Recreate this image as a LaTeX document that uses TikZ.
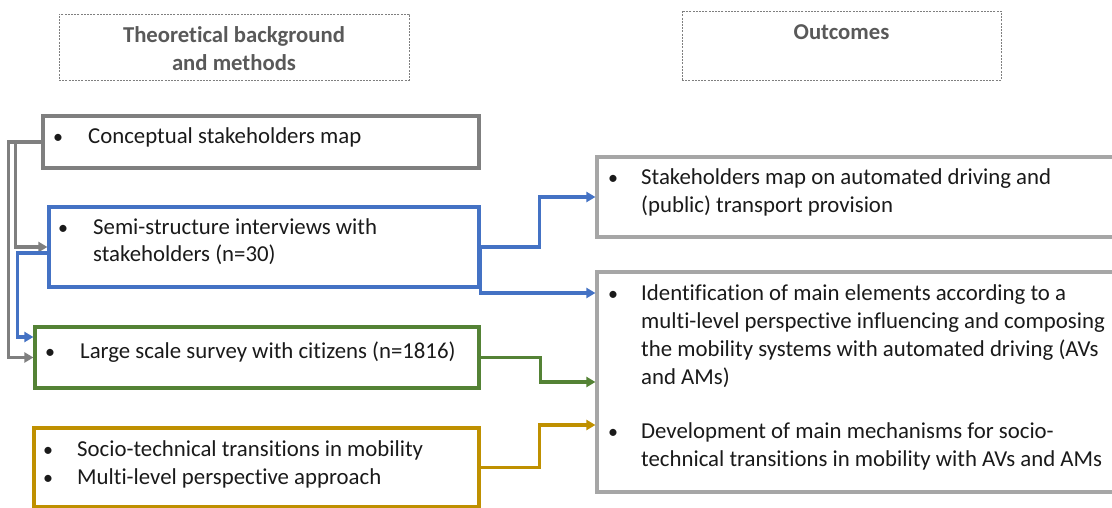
\documentclass[tikz,border=0pt]{standalone}
\usepackage{fontspec}
\setmainfont{Carlito}[RawFeature={-liga;-clig;-calt;-dlig}]
\usetikzlibrary{arrows.meta}
\definecolor{cgray}{HTML}{7F7F7F}
\definecolor{lgray}{HTML}{A6A6A6}
\definecolor{cblue}{HTML}{4472C4}
\definecolor{cgreen}{HTML}{548235}
\definecolor{cgold}{HTML}{BF9000}
\definecolor{ttext}{HTML}{595959}
\definecolor{btext}{HTML}{1A1A1A}
\newcommand{\mylines}[1]{\begin{tabular}[t]{@{}l@{}}#1\end{tabular}}
\begin{document}
\begin{tikzpicture}[x=1pt,y=-1pt,
  box/.style={draw, line width=3.2pt, rectangle, inner sep=0pt, anchor=center},
  titlebox/.style={draw=cgray, line width=0.9pt, dash pattern=on 2pt off 1.2pt, inner sep=0pt},
  titletext/.style={anchor=base, inner sep=0pt, text=ttext, font=\fontsize{22.7}{28}\selectfont\bfseries},
  txt/.style={anchor=base west, inner sep=0pt, text=btext, font=\fontsize{22.8}{28}\selectfont},
  bul/.style={anchor=base, inner sep=0pt, text=btext, font=\fontsize{20}{28}\selectfont},
  conn/.style={line width=3.2pt, -{Triangle[length=9pt,width=10pt]}},
]
\useasboundingbox (0,0) rectangle (1112,508);
\clip (0,0) rectangle (1112,508);
\fill[white] (0,0) rectangle (1112,508);

% title boxes
\node[titlebox, minimum width=350pt, minimum height=66pt] (t1) at (234,47) {};
\node[titlebox, minimum width=319pt, minimum height=69pt] (t2) at (841.5,45.5) {};
\node[titletext] (t1a) at (234,43) {Theoretical background};
\node[titletext] (t1b) at (234,71) {and methods};
\node[titletext] (t2a) at (841.5,40) {Outcomes};

% left boxes
\node[box, draw=cgray, minimum width=436pt, minimum height=52pt] (concept) at (261,142) {};
\node[box, draw=cblue, minimum width=430pt, minimum height=80pt] (semi) at (264,247) {};
\node[box, draw=cgreen, minimum width=444pt, minimum height=61pt] (large) at (257,357.5) {};
\node[box, draw=cgold, minimum width=445pt, minimum height=79pt] (gold) at (256.5,467.5) {};

% right boxes
\node[box, draw=lgray, minimum width=523pt, minimum height=80pt] (out1) at (858.5,197) {};
\node[box, draw=lgray, minimum width=523pt, minimum height=220pt] (out2) at (858.5,382) {};

% texts
\node[bul] (b1) at (58,144) {•};
\node[txt] (x1) at (88,144) {Conceptual stakeholders map};
\node[bul] (b2) at (63,234) {•};
\node[txt] (x2) at (93,234) {\mylines{Semi-structure interviews with\\stakeholders (n=30)}};
\node[bul] (b3) at (50,358) {•};
\node[txt] (x3) at (80,358) {Large scale survey with citizens (n=1816)};
\node[bul] (b4) at (48,456) {•};
\node[bul] (b5) at (48,484) {•};
\node[txt] (x4) at (77,456) {\mylines{Socio-technical transitions in mobility\\Multi-level perspective approach}};

\node[bul] (b6) at (613,185) {•};
\node[txt] (x6) at (641,185) {\mylines{Stakeholders map on automated driving and\\(public) transport provision}};
\node[bul] (b7) at (613,300) {•};
\node[txt] (x7) at (641,300) {\mylines{Identification of main elements according to a\\multi-level perspective influencing and composing\\the mobility systems with automated driving (AVs\\and AMs)}};
\node[bul] (b8) at (613,438) {•};
\node[txt] (x8) at (641,438) {\mylines{Development of main mechanisms for socio-\\technical transitions in mobility with AVs and AMs}};

% connectors
\draw[conn, cgray] (concept.west) -- ++(-33,0) |- (large.west);
\draw[conn, cgray] (concept.west) -- ++(-26,0) |- (semi.west);
\draw[conn, cblue] ([yshift=-6pt]semi.west) -- ++(-30,0) |- ([yshift=20.5pt]large.west);
\draw[conn, cblue] (semi.east) -- ++(59,0) |- (out1.west);
\draw[conn, cblue] (semi.east) |- ([yshift=89pt]out2.west);
\draw[conn, cgreen] (large.east) -- ++(60,0) |- (out2.west);
\draw[conn, cgold] (gold.east) -- ++(59,0) |- ([yshift=-43pt]out2.west);
\end{tikzpicture}
\end{document}
